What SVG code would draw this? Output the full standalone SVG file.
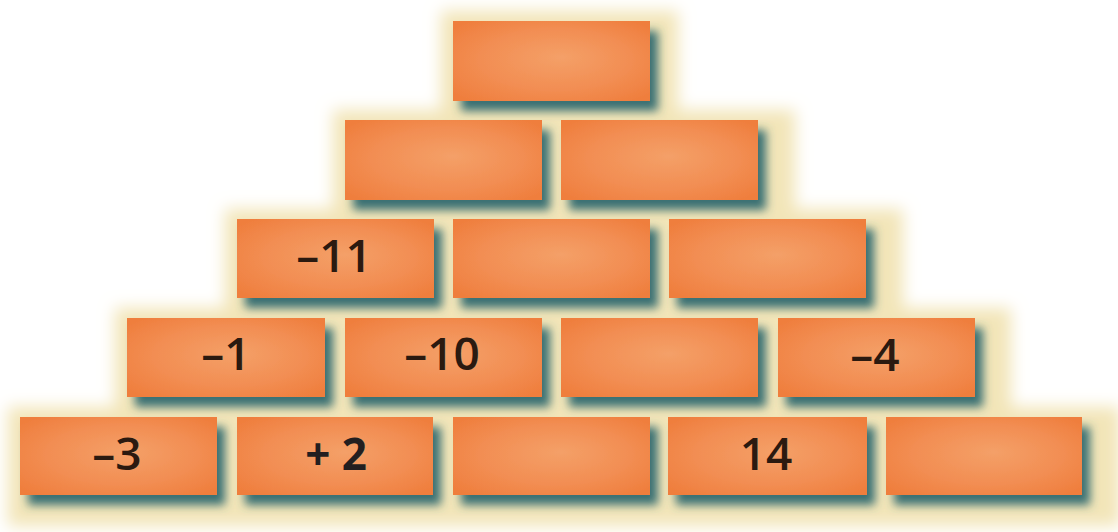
<svg xmlns="http://www.w3.org/2000/svg" width="1118" height="532" viewBox="0 0 1118 532">
<defs>
<radialGradient id="brickFill" cx="0.5" cy="0.5" r="0.65" fx="0.55" fy="0.45">
<stop offset="0" stop-color="#f4a068"/>
<stop offset="0.6" stop-color="#f28d52"/>
<stop offset="1" stop-color="#ef7e3d"/>
</radialGradient>
<filter id="halo" x="-10%" y="-30%" width="125%" height="170%">
<feMorphology operator="dilate" radius="20" in="SourceAlpha" result="d"/>
<feOffset in="d" dx="8" dy="10" result="o"/>
<feGaussianBlur in="o" stdDeviation="8" result="b"/>
<feFlood flood-color="#f2e5b8"/>
<feComposite in2="b" operator="in"/>
</filter>
<filter id="shadow" x="-15%" y="-30%" width="140%" height="180%">
<feGaussianBlur in="SourceAlpha" stdDeviation="5" result="b"/>
<feOffset in="b" dx="8" dy="10" result="o"/>
<feFlood flood-color="#3a7073"/>
<feComposite in2="o" operator="in" result="s"/>
<feMerge><feMergeNode in="s"/><feMergeNode in="SourceGraphic"/></feMerge>
</filter>
</defs>
<style>
.brick{fill:url(#brickFill);filter:url(#shadow)}
.base{fill:#000}
.lbl{font-family:"Open Sans","Liberation Sans",sans-serif;font-size:46px;font-weight:600;fill:#2b1a10;text-anchor:middle}
.bold{font-weight:700;fill:#231f20;font-size:44px}
</style>
<rect width="1118" height="532" fill="#ffffff"/>
<g id="halo-layer" filter="url(#halo)">
<rect class="base" x="453" y="21" width="197" height="79"/>
<rect class="base" x="345" y="120" width="214" height="79"/>
<rect class="base" x="561" y="120" width="206" height="79"/>
<rect class="base" x="237" y="219" width="638" height="79"/>
<rect class="base" x="127" y="318" width="856" height="79"/>
<rect class="base" x="20" y="417" width="1072" height="79"/>
</g>
<g id="row1">
<g id="b1"><rect class="brick" x="453" y="21" width="197" height="80"/></g>
</g>
<g id="row2">
<g id="b2a"><rect class="brick" x="345" y="120" width="197" height="80"/></g>
<g id="b2b"><rect class="brick" x="561" y="120" width="197" height="80"/></g>
</g>
<g id="row3">
<g id="b3a"><rect class="brick" x="237" y="219" width="197" height="79"/><text class="lbl" x="334" y="272">–11</text></g>
<g id="b3b"><rect class="brick" x="453" y="219" width="197" height="79"/></g>
<g id="b3c"><rect class="brick" x="669" y="219" width="197" height="79"/></g>
</g>
<g id="row4">
<g id="b4a"><rect class="brick" x="127" y="318" width="198" height="79"/><text class="lbl" x="226" y="370">–1</text></g>
<g id="b4b"><rect class="brick" x="345" y="318" width="197" height="79"/><text class="lbl" x="442" y="370">–10</text></g>
<g id="b4c"><rect class="brick" x="561" y="318" width="197" height="79"/></g>
<g id="b4d"><rect class="brick" x="778" y="318" width="197" height="79"/><text class="lbl" x="875" y="371">–4</text></g>
</g>
<g id="row5">
<g id="b5a"><rect class="brick" x="20" y="417" width="197" height="78"/><text class="lbl" x="117" y="470">–3</text></g>
<g id="b5b"><rect class="brick" x="237" y="417" width="196" height="78"/><text class="lbl bold" x="336" y="470">+ 2</text></g>
<g id="b5c"><rect class="brick" x="453" y="417" width="197" height="78"/></g>
<g id="b5d"><rect class="brick" x="668" y="417" width="199" height="78"/><text class="lbl" x="766" y="470">14</text></g>
<g id="b5e"><rect class="brick" x="886" y="417" width="196" height="78"/></g>
</g>
<g id="connectors"/>
</svg>
